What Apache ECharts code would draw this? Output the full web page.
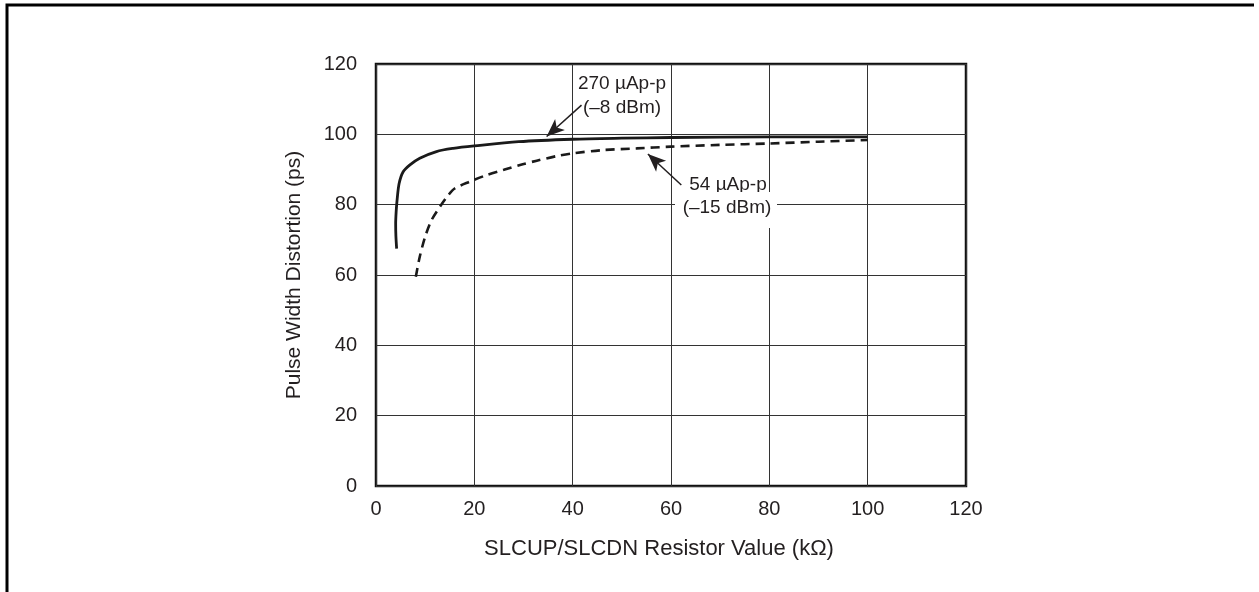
<!doctype html>
<html lang="en">
<head>
    <meta charset="UTF-8">
    <title>Pulse Width Distortion</title>
    <script src="https://cdn.jsdelivr.net/npm/echarts@6/dist/echarts.min.js"></script>
    <style>
        html, body { margin: 0; padding: 0; background: #fff; overflow: hidden; }
        #main { width: 1259px; height: 592px; }
    </style>
</head>
<body>
<div id="main"></div>
<script>
    // x ticks / y ticks
    var xTicks = [0, 20, 40, 60, 80, 100, 120];
    var yTicks = [0, 20, 40, 60, 80, 100, 120];

    // 270 uAp-p (-8 dBm)
    var strongX = [4.2, 4.05, 4.0, 4.1, 4.3, 4.7, 5.5, 6.9, 8.9, 12.3, 15.7, 20, 29, 40, 50, 60, 80, 100];
    var strongY = [67.5, 71, 74.5, 78, 81.5, 86, 89.3, 91.3, 93.2, 95.1, 96, 96.7, 97.9, 98.6, 98.9, 99.1, 99.3, 99.3];

    // 54 uAp-p (-15 dBm)
    var weakX = [8.1, 8.9, 10, 11.3, 13, 14.7, 16, 19, 22.5, 26, 29.3, 32.7, 36.7, 40, 46, 53, 60, 70, 80, 90, 100];
    var weakY = [59.5, 65.2, 70.9, 75.6, 79.4, 82.7, 84.6, 86.5, 88.4, 89.9, 91.3, 92.5, 93.8, 94.6, 95.5, 96, 96.5, 97, 97.4, 97.9, 98.4];

    // arrows: [from, to] in data units
    var arrowStrong = [[41.8, 108.3], [34.7, 99.4]];
    var arrowWeak = [[62.1, 85.6], [55.3, 94.4]];

    function pairs(xs, ys) {
        var out = [];
        for (var i = 0; i < xs.length; i++) out.push([xs[i], ys[i]]);
        return out;
    }

    var font = '"Liberation Sans", Arial, Helvetica, sans-serif';
    var ink = '#231f20';

    var myChart = echarts.init(document.getElementById('main'));

    var arrowLine = function (a) {
        return {
            silent: true,
            symbol: ['none', 'arrow'],
            symbolSize: [11, 18],
            label: { show: false },
            lineStyle: { type: 'solid', width: 1.5, color: ink },
            data: [[{ coord: a[0] }, { coord: a[1] }]]
        };
    };

    var option = {
        animation: false,
        grid: {
            left: 376, top: 64, width: 590, height: 422,
            show: true, borderColor: '#111', borderWidth: 2.5,
            containLabel: false
        },
        xAxis: {
            type: 'value',
            min: xTicks[0], max: xTicks[xTicks.length - 1], interval: 20,
            name: 'SLCUP/SLCDN Resistor Value (k\u03A9)',
            nameLocation: 'middle', nameGap: 52,
            nameTextStyle: { fontFamily: font, fontSize: 22, color: ink, padding: [0, 24, 0, 0] },
            axisLine: { show: false },
            axisTick: { show: false },
            axisLabel: { fontFamily: font, fontSize: 20, color: ink, margin: 13 },
            splitLine: { show: true, lineStyle: { color: '#333', width: 1 } }
        },
        yAxis: {
            type: 'value',
            min: yTicks[0], max: yTicks[yTicks.length - 1], interval: 20,
            name: 'Pulse Width Distortion (ps)',
            nameLocation: 'middle', nameGap: 71, nameRotate: 90,
            nameTextStyle: { fontFamily: font, fontSize: 21, color: ink },
            axisLine: { show: false },
            axisTick: { show: false },
            axisLabel: { fontFamily: font, fontSize: 20, color: ink, margin: 19 },
            splitLine: { show: true, lineStyle: { color: '#333', width: 1 } }
        },
        series: [
            {
                name: '270 \u00B5Ap-p',
                type: 'line',
                data: pairs(strongX, strongY),
                showSymbol: false,
                smooth: 0.3,
                lineStyle: { color: '#1a1a1a', width: 2.8 },
                markLine: arrowLine(arrowStrong)
            },
            {
                name: '54 \u00B5Ap-p',
                type: 'line',
                data: pairs(weakX, weakY),
                showSymbol: false,
                smooth: 0.3,
                lineStyle: { color: '#1a1a1a', width: 2.6, type: [9, 6] },
                markLine: arrowLine(arrowWeak)
            }
        ],
        graphic: [
            {
                type: 'polyline', z: 100, silent: true,
                shape: { points: [[1254, 5], [7, 5], [7, 592]] },
                style: { fill: null, stroke: '#000', lineWidth: 3 }
            },
            {
                type: 'text', z: 100, x: 622, y: 84,
                style: { text: '270 \u00B5Ap-p', font: '19px ' + font, fill: ink, align: 'center', verticalAlign: 'middle' }
            },
            {
                type: 'text', z: 100, x: 622, y: 108,
                style: { text: '(\u20138 dBm)', font: '19px ' + font, fill: ink, align: 'center', verticalAlign: 'middle' }
            },
            {
                type: 'text', z: 100, x: 728, y: 185,
                style: { text: '54 \u00B5Ap-p', font: '19px ' + font, fill: ink, align: 'center', verticalAlign: 'middle' }
            },
            {
                type: 'rect', z: 100, silent: true,
                shape: { x: 675, y: 192, width: 102, height: 36 },
                style: { fill: '#fff' }
            },
            {
                type: 'text', z: 101, x: 727, y: 208,
                style: { text: '(\u201315 dBm)', font: '19px ' + font, fill: ink, align: 'center', verticalAlign: 'middle' }
            }
        ]
    };

    myChart.setOption(option);
</script>
</body>
</html>
